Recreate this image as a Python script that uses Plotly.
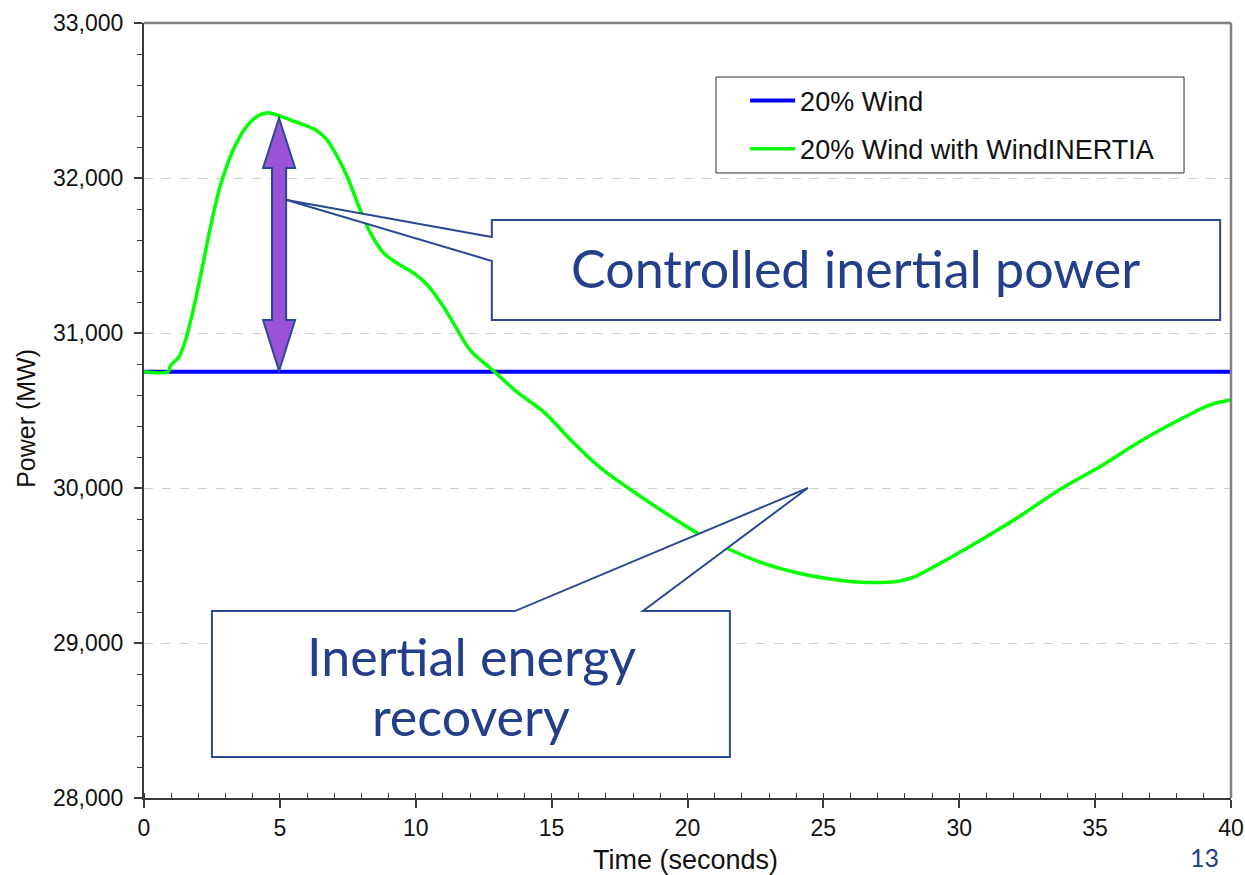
import plotly.graph_objects as go

# ---- data ----
time_base = [0, 40]
power_base = [30750, 30750]

time_inertia = [0, 0.88, 0.98, 1.29, 1.53, 1.84, 2.15, 2.45, 2.76, 3.07, 3.43, 3.80,
                4.17, 4.54, 4.91, 5.40, 5.89, 6.32, 6.69, 7.05, 7.48, 7.91, 8.34,
                8.83, 9.32, 9.94, 10.43, 10.98, 11.5, 12.0, 12.9, 13.65, 14.75,
                15.7, 16.8, 17.9, 19.0, 20.45, 21.6, 22.7, 24.1, 25.6, 26.7, 27.8,
                28.4, 29.3, 30.8, 32.2, 33.7, 35.2, 36.65, 38.1, 39.2, 40.0]
power_inertia = [30750, 30750, 30790, 30847, 30955, 31170, 31428, 31686, 31920, 32090,
                 32235, 32338, 32398, 32421, 32406, 32374, 32342, 32310, 32256, 32159,
                 32008, 31815, 31643, 31514, 31450, 31385, 31310, 31180, 31030, 30890,
                 30750, 30630, 30485, 30310, 30130, 29990, 29860, 29700, 29600, 29520,
                 29450, 29405, 29390, 29400, 29430, 29515, 29665, 29815, 29990, 30140,
                 30300, 30440, 30535, 30570]

series_names = ["20% Wind", "20% Wind with WindINERTIA"]
callout1_text = "Controlled inertial power"
callout2_lines = ["Inertial energy", "recovery"]
page_number = "13"

# callout outlines (data coordinates)
callout1 = [(12.8, 31729), (39.6, 31729), (39.6, 31084), (12.8, 31084),
            (12.8, 31465), (5.25, 31858), (12.8, 31619)]
callout2 = [(2.5, 29206), (13.65, 29206), (24.43, 30000), (18.36, 29206),
            (21.56, 29206), (21.56, 28264), (2.5, 28264)]
# double arrow (data coordinates)
ax_c, a_shaft, a_head = 4.97, 0.26, 0.59
arrow_top, arrow_head_top, arrow_head_bot, arrow_bot = 32387, 32065, 31084, 30755
arrow = [(ax_c, arrow_top), (ax_c + a_head, arrow_head_top), (ax_c + a_shaft, arrow_head_top),
         (ax_c + a_shaft, arrow_head_bot), (ax_c + a_head, arrow_head_bot), (ax_c, arrow_bot),
         (ax_c - a_head, arrow_head_bot), (ax_c - a_shaft, arrow_head_bot),
         (ax_c - a_shaft, arrow_head_top), (ax_c - a_head, arrow_head_top)]


def path(pts):
    return "M " + " L ".join(f"{x},{y}" for x, y in pts) + " Z"


CALL_BLUE = "#2B4A93"
TXT_BLUE = "#233F8C"

fig = go.Figure()
fig.add_trace(go.Scatter(x=time_base, y=power_base, mode="lines", name=series_names[0],
                         line=dict(color="#0000FF", width=4), legendgroup="a"))
fig.add_trace(go.Scatter(x=time_inertia, y=power_inertia, mode="lines", name=series_names[1],
                         line=dict(color="#00FF00", width=3.5, shape="spline", smoothing=0.9),
                         legendgroup="b"))

shapes = [
    # top and right border
    dict(type="line", xref="paper", yref="paper", x0=0, x1=1, y0=1, y1=1,
         line=dict(color="#808080", width=2.5)),
    dict(type="line", xref="paper", yref="paper", x0=1, x1=1, y0=0, y1=1,
         line=dict(color="#808080", width=2.5)),
    # legend box
    dict(type="rect", xref="paper", yref="paper", x0=0.5262, x1=0.9568, y0=0.8065, y1=0.9303,
         line=dict(color="#333333", width=1), fillcolor="white", layer="below"),
    dict(type="path", xref="x", yref="y", path=path(callout1), fillcolor="white",
         line=dict(color=CALL_BLUE, width=2), layer="above"),
    dict(type="path", xref="x", yref="y", path=path(callout2), fillcolor="white",
         line=dict(color=CALL_BLUE, width=2), layer="above"),
    dict(type="path", xref="x", yref="y", path=path(arrow), fillcolor="#9A52D6",
         line=dict(color=CALL_BLUE, width=2), layer="above"),
]

annotations = [
    dict(text=callout1_text, xref="paper", yref="paper", x=0.655, y=0.684,
         showarrow=False, font=dict(family="Lato", size=52, color=TXT_BLUE),
         xanchor="center", yanchor="middle"),
    dict(text=callout2_lines[0], xref="paper", yref="paper", x=0.301, y=0.183,
         showarrow=False, font=dict(family="Lato", size=52, color=TXT_BLUE),
         xanchor="center", yanchor="middle"),
    dict(text=callout2_lines[1], xref="paper", yref="paper", x=0.301, y=0.106,
         showarrow=False, font=dict(family="Lato", size=52, color=TXT_BLUE),
         xanchor="center", yanchor="middle"),
    dict(text=page_number, xref="paper", yref="paper", x=0.976, y=-0.076,
         showarrow=False, font=dict(family="Lato", size=25, color=TXT_BLUE),
         xanchor="center", yanchor="middle"),
    dict(text="Time (seconds)", xref="paper", yref="paper", x=0.4986, y=-0.0805,
         showarrow=False, font=dict(family="Liberation Sans", size=27, color="#111111"),
         xanchor="center", yanchor="middle"),
    dict(text="Power (MW)", xref="paper", yref="paper", x=-0.108, y=0.49,
         showarrow=False, textangle=-90,
         font=dict(family="Liberation Sans", size=25, color="#111111"),
         xanchor="center", yanchor="middle"),
]

fig.update_layout(
    width=1245, height=875,
    margin=dict(l=144, r=14, t=23, b=77, autoexpand=False),
    paper_bgcolor="white", plot_bgcolor="white",
    font=dict(family="Liberation Sans", color="#111111"),
    showlegend=True,
    legend=dict(x=0.553, y=0.931, xanchor="left", yanchor="top",
                bgcolor="rgba(0,0,0,0)", borderwidth=0, itemwidth=45,
                font=dict(family="Liberation Sans", size=27, color="#111111"),
                tracegroupgap=10, traceorder="grouped"),
    shapes=shapes,
    annotations=annotations,
    xaxis=dict(range=[0, 40], dtick=5, tick0=0, showgrid=False, zeroline=False,
               automargin=False,
               showline=True, linecolor="#3a3a3a", linewidth=2,
               ticks="outside", ticklen=8, tickwidth=1.5, tickcolor="#3a3a3a",
               tickfont=dict(size=23, color="#111111"),
               minor=dict(dtick=1, ticks="inside", ticklen=5, tickwidth=1,
                          tickcolor="#3a3a3a", showgrid=False)),
    yaxis=dict(range=[28000, 33000], dtick=1000, tick0=28000, tickformat=",",
               automargin=False,
               showgrid=True, gridcolor="#cfcfcf", griddash="dash", gridwidth=1,
               zeroline=False, showline=True, linecolor="#3a3a3a", linewidth=2,
               ticks="outside", ticklen=8, tickwidth=1.5, tickcolor="#3a3a3a",
               ticklabelstandoff=6,
               tickfont=dict(size=23, color="#111111"),
               minor=dict(dtick=200, ticks="outside", ticklen=5, tickwidth=1,
                          tickcolor="#3a3a3a", showgrid=False)),
)

fig.write_html("out.html")
